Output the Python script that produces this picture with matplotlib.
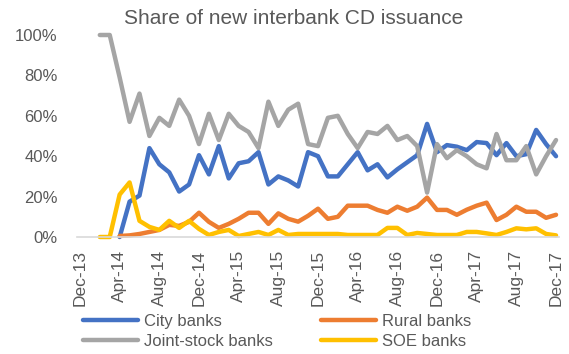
import numpy as np
import matplotlib
matplotlib.use("Agg")
import matplotlib.pyplot as plt
from matplotlib.lines import Line2D

plt.rcParams['font.family'] = ['Liberation Sans', 'DejaVu Sans']

nan = np.nan
# Monthly, Dec-13 .. Dec-17 (49 months), share in %
tick_labels = ["Dec-13", "Apr-14", "Aug-14", "Dec-14", "Apr-15", "Aug-15", "Dec-15",
               "Apr-16", "Aug-16", "Dec-16", "Apr-17", "Aug-17", "Dec-17"]

city = [nan, nan, nan, nan,
        0, 17.5, 20.5, 44, 36, 32, 22.5, 26, 40.5,
        31, 45, 29, 36.5, 37.5, 42, 26, 30, 28, 25, 42, 40,
        30, 30, 36, 42, 33, 36, 29.5, 33.5, 37, 40.5, 56, 42,
        45.5, 44.7, 43, 47, 46.5, 40.5, 46.5, 40, 41, 53, 46, 40]
rural = [nan, nan, nan, nan,
         0.5, 0.8, 1.5, 2.5, 3.5, 6, 5.5, 7.5, 12,
         7.5, 4.5, 6.5, 9, 12, 12, 6.5, 11.7, 9, 7.6, 10.5, 14,
         9, 10, 15.5, 15.5, 15.5, 13.4, 12, 15, 13, 15, 19.5, 13.4,
         13.4, 11, 13.5, 15.5, 17, 8.4, 11, 15, 12.5, 12.5, 9.5, 11]
joint = [nan, nan,
         100, 100, 79, 57, 71, 50, 59, 55, 68, 60, 46,
         61, 48, 61, 55, 52, 44, 67, 55, 63, 66, 46, 45,
         59, 60, 51, 44, 52, 51, 55, 48, 50, 45, 22, 46,
         39, 43, 40, 36, 34, 51, 38, 38, 45, 31, 40, 48]
soe = [nan, nan,
       0, 0, 21, 27, 8, 5, 3.5, 8, 4.5, 8, 4,
       1, 2.5, 3.5, 0.5, 1.5, 2.5, 1, 3.5, 1, 1.5, 1.5, 1.5,
       1.5, 1.5, 1, 1, 1, 1, 4.5, 4.5, 1, 2, 1.5, 1,
       1, 1, 2.5, 2.5, 1.8, 1, 2.5, 4.3, 3.8, 4.3, 1.5, 0.8]

series = [("City banks", city, "#4472C4"),
          ("Rural banks", rural, "#ED7D31"),
          ("Joint-stock banks", joint, "#A5A5A5"),
          ("SOE banks", soe, "#FFC000")]

W, H = 569, 354
fig = plt.figure(figsize=(W / 100, H / 100), dpi=100)
ax = fig.add_axes([77 / W, 117 / H, 482 / W, 202 / H])
x = np.arange(len(city))

handles = {}
for name, vals, col in series:
    ax.plot(x, vals, color=col, lw=3.2, solid_joinstyle='round',
            solid_capstyle='round', clip_on=False)
    handles[name] = Line2D([], [], color=col, lw=3.2, solid_capstyle='round')

ax.set_xlim(-0.3, 48.3)
ax.set_ylim(0, 100)
for s in ['top', 'right', 'left']:
    ax.spines[s].set_visible(False)
ax.spines['bottom'].set_color('#D9D9D9')
ax.spines['bottom'].set_linewidth(1.2)

ax.set_xticks(np.arange(0, 49, 4))
ax.set_xticklabels(tick_labels, rotation=90)
yt = [0, 20, 40, 60, 80, 100]
ax.set_yticks(yt)
ax.set_yticklabels([f"{v}%" for v in yt])
ax.tick_params(axis='both', length=0, labelsize=12, labelcolor='#595959')
ax.tick_params(axis='x', labelsize=12.5)
ax.tick_params(axis='y', pad=14)
ax.tick_params(axis='x', pad=9)

fig.text(0.516, 0.949, "Share of new interbank CD issuance", ha='center', va='center',
         fontsize=15, color='#595959')

order = ["City banks", "Joint-stock banks", "Rural banks", "SOE banks"]
leg = fig.legend([handles[n] for n in order], order, loc='upper left',
                 bbox_to_anchor=(83 / W, 1 - 314 / H), ncol=2, frameon=False,
                 fontsize=12, handlelength=3.3, handletextpad=0.35,
                 columnspacing=2.9, labelspacing=0.3, borderpad=0, borderaxespad=0)
for t in leg.get_texts():
    t.set_color('#595959')

fig.savefig("out.png", dpi=100)
